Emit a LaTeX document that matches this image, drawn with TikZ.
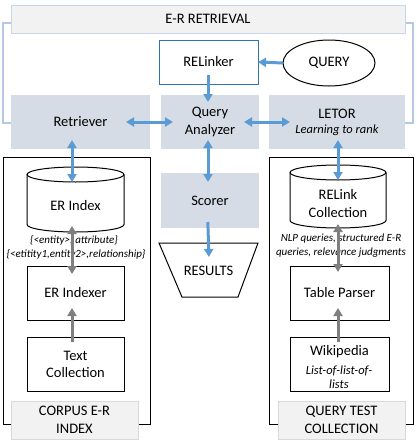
\documentclass[tikz,border=0pt]{standalone}
\usepackage{fontspec}
\setmainfont{Carlito}
\usetikzlibrary{arrows.meta,shapes.geometric}
\definecolor{framec}{HTML}{B4C7E7}
\definecolor{lightfill}{HTML}{F2F2F2}
\definecolor{hdrline}{HTML}{C9D5EA}
\definecolor{lblline}{HTML}{D9D9D9}
\definecolor{boxfill}{HTML}{D6DCE5}
\definecolor{arrblue}{HTML}{5B9BD5}
\definecolor{relblue}{HTML}{2E75B6}
\definecolor{arrgray}{HTML}{7F7F7F}
\begin{document}
\begin{tikzpicture}[x=1pt,y=-1pt,
  every node/.style={font=\fontsize{14.5}{18}\selectfont, inner sep=0pt, outer sep=0pt, align=center},
  wbox/.style={draw=black, line width=1pt, fill=white},
  lbl/.style={fill=lightfill, draw=lblline, line width=1pt},
  smalli/.style={font=\fontsize{11}{14}\selectfont\itshape},
  medi/.style={font=\fontsize{12.5}{15.5}\selectfont\itshape},
  barrow/.style={draw=arrblue, line width=3pt, -{Triangle[width=9pt,length=8pt]}},
  bbarrow/.style={draw=arrblue, line width=3pt, {Triangle[width=9pt,length=8pt]}-{Triangle[width=9pt,length=8pt]}},
  garrow/.style={draw=arrgray, line width=3pt, -{Triangle[width=9pt,length=8pt]}},
  ggarrow/.style={draw=arrgray, line width=3pt, {Triangle[width=9pt,length=8pt]}-{Triangle[width=9pt,length=8pt]}}
]
\useasboundingbox (0,0) rectangle (416,442);
% outer retrieval frame
\draw[framec, line width=2pt] (2.5,22.5) rectangle (413,123);
% header
\node[fill=lightfill, draw=hdrline, line width=1pt, minimum width=394pt, minimum height=28pt] (erret) at (208,19) {E-R RETRIEVAL};
% top row
\node[draw=relblue, line width=1pt, fill=white, minimum width=99pt, minimum height=44pt] (rel) at (208.5,62) {RELinker};
\node[ellipse, draw=black, line width=1pt, fill=white, minimum width=92pt, minimum height=46pt] (query) at (329,63) {QUERY};
\node[fill=boxfill, minimum width=139pt, minimum height=54pt] (ret) at (80.5,122) {Retriever};
\node[fill=boxfill, minimum width=98pt, minimum height=54pt] (qa) at (210,122) {Query\\Analyzer};
\node[fill=boxfill, minimum width=136pt, minimum height=54pt] (letor) at (337,122) {LETOR\\[-3pt]{\fontsize{12.5}{15}\selectfont\itshape Learning to rank}};
% containers
\node[draw=black, line width=1pt, minimum width=147pt, minimum height=267pt] (leftc) at (76.5,290.5) {};
\node[draw=black, line width=1pt, minimum width=144pt, minimum height=267pt] (rightc) at (341,290.5) {};
\node[lbl, minimum width=127pt, minimum height=38pt] (corpus) at (74.5,420) {CORPUS E-R\\INDEX};
\node[lbl, minimum width=127pt, minimum height=38pt] (qtc) at (341.5,420) {QUERY TEST\\COLLECTION};
% scorer and results
\node[fill=boxfill, minimum width=98pt, minimum height=55pt] (scorer) at (210,200.5) {Scorer};
\draw[line width=1pt] (159,243) -- (258,243) -- (238,297) -- (182,297) -- cycle;
\node (res) at (208.5,271) {RESULTS};
\coordinate (restop) at (208.5,243);
% ER Index cylinder
\fill[white] (27,174.5) -- (27,224.5) arc[start angle=180,end angle=0,x radius=48.5,y radius=7.5] -- (124,174.5) -- cycle;
\draw[line width=1pt] (27,174.5) -- (27,224.5) arc[start angle=180,end angle=0,x radius=48.5,y radius=7.5] -- (124,174.5);
\draw[line width=1pt, fill=white] (75.5,174.5) ellipse[x radius=48.5, y radius=7.5];
\node (erix) at (75.5,206) {ER Index};
\coordinate (erixtop) at (72,167);
\coordinate (erixbot) at (72,232);
% RELink cylinder
\fill[white] (290,172.5) -- (290,220.5) arc[start angle=180,end angle=0,x radius=48,y radius=7.5] -- (386,172.5) -- cycle;
\draw[line width=1pt] (290,172.5) -- (290,220.5) arc[start angle=180,end angle=0,x radius=48,y radius=7.5] -- (386,172.5);
\draw[line width=1pt, fill=white] (338,172.5) ellipse[x radius=48, y radius=7.5];
\node (relink) at (338,204) {RELink\\Collection};
\coordinate (relinktop) at (338,165);
\coordinate (relinkbot) at (338,228);
% lower boxes
\node[wbox, minimum width=97pt, minimum height=54pt] (erindexer) at (75.5,293) {ER Indexer};
\node[wbox, minimum width=97pt, minimum height=54pt] (textc) at (75.5,364) {Text\\[-1pt]Collection};
\node[wbox, minimum width=99pt, minimum height=54pt] (tparser) at (339.5,293) {Table Parser};
\node[wbox, minimum width=99pt, minimum height=54pt] (wiki) at (339.5,364) {};
\node (wikititle) at (339.5,352) {Wikipedia};
\node[medi] (wikisub) at (339,377) {List-of-list-of-\\[-1.5pt]lists};
% arrow labels
\node[smalli] (l1) at (74,240) {\{<entity>, attribute\}};
\node[smalli] (l2) at (76,254) {\{<etitity1,entity2>,relationship\}};
\node[smalli] (l3) at (341,239) {NLP queries, structured E-R};
\node[smalli] (l4) at (341,253) {queries, relevance judgments};
% connectors
\coordinate (colA) at (72,0);
\coordinate (colB) at (208,0);
\coordinate (colC) at (338,0);
\draw[barrow] (query.west) -- (rel.east);
\draw[barrow, shorten <=-9pt, shorten >=-7pt] (rel.south -| colB) -- (qa.north -| colB);
\draw[bbarrow, shorten <=-24pt, shorten >=-12pt] (ret.east) -- (qa.west);
\draw[bbarrow, shorten <=-15pt, shorten >=-21pt] (qa.east) -- (letor.west);
\draw[bbarrow, shorten <=-9pt, shorten >=-15pt] (ret.south -| colA) -- (erixtop);
\draw[bbarrow, shorten <=-9pt, shorten >=-9pt] (qa.south -| colB) -- (scorer.north -| colB);
\draw[barrow, shorten <=-6pt, shorten >=-14pt] (scorer.south -| colB) -- (restop);
\draw[bbarrow, shorten <=-9pt, shorten >=-15pt] (letor.south -| colC) -- (relinktop);
\draw[ggarrow, shorten <=-6pt, shorten >=-8pt] (erixbot) -- (erindexer.north -| colA);
\draw[garrow, shorten <=-5pt, shorten >=-12pt] (textc.north -| colA) -- (erindexer.south -| colA);
\draw[ggarrow, shorten <=-4pt, shorten >=-6pt] (relinkbot) -- (tparser.north -| colC);
\draw[garrow, shorten <=-5pt, shorten >=-12pt] (wiki.north -| colC) -- (tparser.south -| colC);
\end{tikzpicture}
\end{document}
